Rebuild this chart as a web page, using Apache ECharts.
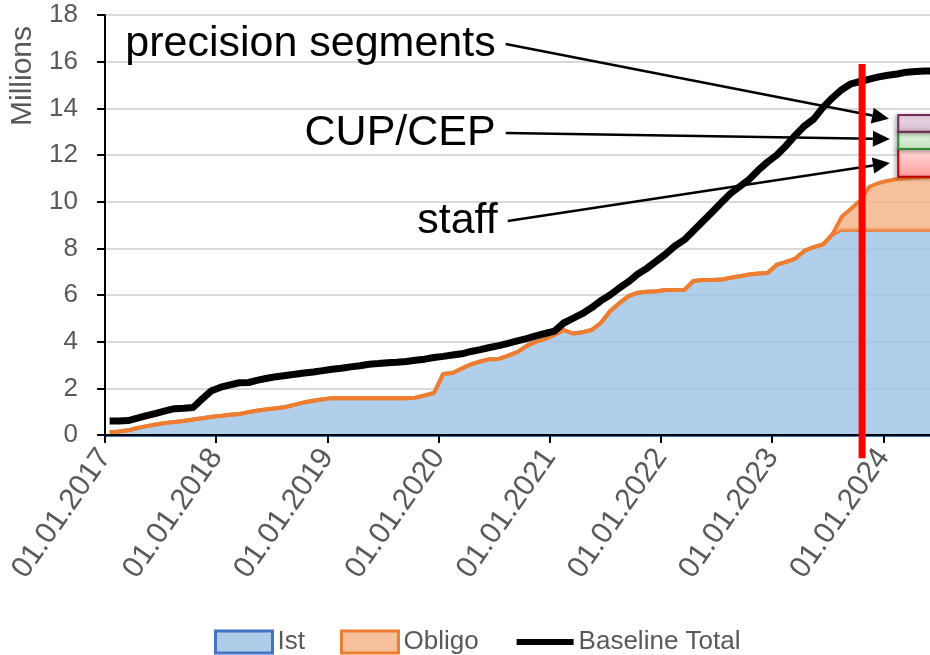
<!DOCTYPE html>
<html><head><meta charset="utf-8">
<script src="https://cdn.jsdelivr.net/npm/echarts@6/dist/echarts.min.js"></script>
<style>html,body{margin:0;padding:0;background:#fff;overflow:hidden;width:930px;height:655px}#c{width:950px;height:655px}</style>
</head><body><div id="c"></div>
<script>
// ---- data (monthly, Jan 2017 = month 0) ----
const yearLabels = ['01.01.2017','01.01.2018','01.01.2019','01.01.2020','01.01.2021','01.01.2022','01.01.2023','01.01.2024'];
const yTicks = [0,2,4,6,8,10,12,14,16,18];

const ist = [
0.12,0.15,0.2,0.3,0.38,0.45,0.52,0.56,0.6,0.66,0.72,0.78,
0.82,0.87,0.9,0.98,1.05,1.1,1.15,1.2,1.3,1.4,1.47,1.53,
1.58,1.58,1.58,1.58,1.58,1.58,1.58,1.58,1.58,1.6,1.7,1.8,
2.62,2.66,2.85,3.03,3.15,3.25,3.26,3.4,3.55,3.82,4.0,4.12,
4.3,4.5,4.35,4.4,4.5,4.8,5.3,5.65,5.95,6.1,6.14,6.16,
6.21,6.21,6.21,6.6,6.64,6.64,6.66,6.74,6.8,6.88,6.92,6.94,
7.3,7.42,7.56,7.9,8.05,8.17,8.6,8.8,8.8,8.8,8.8,8.8,
8.8,8.8,8.8,8.8,8.8,8.8];

const obligo = [
0,0,0,0,0,0,0,0,0,0,0,0,
0,0,0,0,0,0,0,0,0,0,0,0,
0,0,0,0,0,0,0,0,0,0,0,0,
0,0,0,0,0,0,0,0,0,0,0,0,
0,0,0,0,0,0,0,0,0,0,0,0,
0,0,0,0,0,0,0,0,0,0,0,0,
0,0,0,0,0,0,0,0.55,0.9,1.25,1.84,2.0,
2.1,2.17,2.2,2.23,2.25,2.27];

const baseline = [
0.6,0.6,0.62,0.72,0.83,0.93,1.03,1.13,1.15,1.18,1.55,1.9,
2.05,2.15,2.24,2.25,2.35,2.43,2.5,2.55,2.6,2.66,2.7,2.76,
2.82,2.86,2.92,2.97,3.03,3.06,3.1,3.12,3.15,3.2,3.25,3.32,
3.37,3.43,3.48,3.58,3.66,3.75,3.83,3.93,4.03,4.13,4.25,4.35,
4.45,4.8,5.0,5.2,5.45,5.75,6.0,6.3,6.57,6.9,7.15,7.45,
7.75,8.1,8.36,8.75,9.15,9.55,9.95,10.35,10.65,10.95,11.35,11.7,
12.0,12.4,12.85,13.25,13.55,14.05,14.45,14.8,15.05,15.15,15.25,15.35,
15.42,15.47,15.55,15.58,15.6,15.6];

// segment boxes stacked above Obligo (values in millions), placed from month boxFrom
const segNames  = ['staff','CUP/CEP','precision segments'];
const segBottom = [11.07, 12.26, 13.0];
const segTop    = [12.26, 13.0, 13.71];
const boxFrom = 85.6, boxTo = 92;

// annotation arrows: [month, value] start and tip
const annoText = ['precision segments','CUP/CEP','staff'];
const annoFrom = [[43.24,16.76],[43.24,12.94],[43.46,9.17]];
const annoTo   = [[84.6,13.55],[84.7,12.69],[84.7,11.66]];

// red "today" marker
const markerMonth = 81.7, markerTop = 15.9, markerBottom = -1;

// ---- build ----
const FONT = 'Liberation Sans';
const GREY = '#595959';
// value first, month second (encode maps them), so stacking runs on the value dimension
const vm = arr => arr.map((v,i)=>[v, i+0.5]);

const chart = echarts.init(document.getElementById('c'));
chart.setOption({
  animation:false,
  backgroundColor:'#fff',
  textStyle:{fontFamily:FONT},
  grid:{left:105, top:15, width:834, height:420, containLabel:false},
  xAxis:{
    type:'value', min:0, max:90, interval:12, z:5,
    axisLine:{lineStyle:{color:'#000', width:2}},
    axisTick:{length:8, lineStyle:{color:'#000', width:2}},
    splitLine:{show:false},
    axisLabel:{rotate:55, margin:17, fontSize:30, color:GREY, fontFamily:FONT, showMaxLabel:false,
      formatter:v => (v % 12 === 0 && yearLabels[v/12]) ? yearLabels[v/12] : ''}
  },
  yAxis:{
    type:'value', min:yTicks[0], max:yTicks[yTicks.length-1], interval:2,
    axisLine:{show:true, lineStyle:{color:'#000', width:2}},
    axisTick:{show:true, length:8, lineStyle:{color:'#000', width:2}},
    splitLine:{lineStyle:{color:'#d9d9d9', width:2}},
    axisLabel:{fontSize:26, color:GREY, margin:27, fontFamily:FONT}
  },
  legend:{
    left:209, top:624, itemWidth:57, itemHeight:22, itemGap:35,
    textStyle:{fontSize:26, color:GREY, fontFamily:FONT},
    data:[
      {name:'Ist', icon:'rect', itemStyle:{color:'#aecbe8', borderColor:'#4472c4', borderWidth:3}},
      {name:'Obligo', icon:'rect', itemStyle:{color:'#f6c09c', borderColor:'#ed7d31', borderWidth:3}},
      {name:'Baseline Total', itemStyle:{opacity:0}, lineStyle:{color:'#000', width:6}}
    ]
  },
  series:[
    {name:'Ist', type:'line', stack:'total', data:vm(ist), encode:{x:1, y:0}, symbol:'none', z:2,
      itemStyle:{color:'#4472c4'},
      lineStyle:{color:'#ed7d31', width:4},
      areaStyle:{color:'#9dc3e6', opacity:0.8},
      markLine:{silent:true, symbol:'none', label:{show:false},
        lineStyle:{color:'#4472c4', width:3, type:'solid'}, data:[{yAxis:0}]}
    },
    {name:'Obligo', type:'line', stack:'total', data:vm(obligo), encode:{x:1, y:0}, symbol:'none', z:3,
      itemStyle:{color:'#ed7d31'},
      lineStyle:{color:'#ed7d31', width:4},
      areaStyle:{color:'#f4b183', opacity:0.8}
    },
    {name:'Baseline Total', type:'line', data:vm(baseline), encode:{x:1, y:0}, symbol:'none', z:4,
      itemStyle:{color:'#000'},
      lineStyle:{color:'#000', width:7, join:'round'}
    }
  ]
});

// ---- annotations placed through the chart's own scales ----
const px = (m, v) => chart.convertToPixel({gridIndex:0}, [m, v]);
const G = echarts.graphic;
const graphics = [];

// y-axis title
graphics.push({type:'text', x:23, y:76, rotation:Math.PI/2, z:10,
  style:{text:'Millions', font:'30px "'+FONT+'"', fill:GREY, align:'center', verticalAlign:'middle',
         textAlign:'center', textVerticalAlign:'middle'}});

// red marker line
const rt = px(markerMonth, markerTop), rb = px(markerMonth, markerBottom);
graphics.push({type:'line', z:20, shape:{x1:rt[0], y1:rt[1], x2:rb[0], y2:rb[1]},
  style:{stroke:'#ff0000', lineWidth:7}});

// segment boxes
const segFill = [['#ffdede','#ff9c9c'],['#e6f3e3','#c3e3bd'],['#eee0ea','#d5b9cb']];
const segBorder = ['#c00000','#2e8b38','#7a2a5a'];
for (let i=0;i<segNames.length;i++){
  const a = px(boxFrom, segTop[i]), b = px(boxTo, segBottom[i]);
  graphics.push({type:'rect', z:15, shape:{x:a[0], y:a[1], width:b[0]-a[0], height:b[1]-a[1]},
    style:{fill:new G.LinearGradient(0,0,0,1,[{offset:0,color:segFill[i][0]},{offset:1,color:segFill[i][1]}]),
      stroke:segBorder[i], lineWidth:2, shadowBlur:4, shadowColor:'rgba(0,0,0,0.25)', shadowOffsetX:-2, shadowOffsetY:1}});
}

// arrows + text
for (let i=0;i<annoText.length;i++){
  const s = px(annoFrom[i][0], annoFrom[i][1]);
  const t = px(annoTo[i][0], annoTo[i][1]);
  const dx = t[0]-s[0], dy = t[1]-s[1], L = Math.hypot(dx,dy);
  const ux = dx/L, uy = dy/L, hl = 17, hw = 8;
  const bx = t[0]-ux*hl, by = t[1]-uy*hl;
  graphics.push({type:'line', z:18, shape:{x1:s[0], y1:s[1], x2:bx, y2:by}, style:{stroke:'#000', lineWidth:2.5}});
  graphics.push({type:'polygon', z:18, shape:{points:[[t[0],t[1]],[bx-uy*hw, by+ux*hw],[bx+uy*hw, by-ux*hw]]}, style:{fill:'#000'}});
  graphics.push({type:'text', z:18, x:s[0]-10, y:s[1],
    style:{text:annoText[i], font:'43px "'+FONT+'"', fill:'#000', align:'right', verticalAlign:'middle',
           textAlign:'right', textVerticalAlign:'middle'}});
}
chart.setOption({graphic:graphics});
</script>
</body></html>
